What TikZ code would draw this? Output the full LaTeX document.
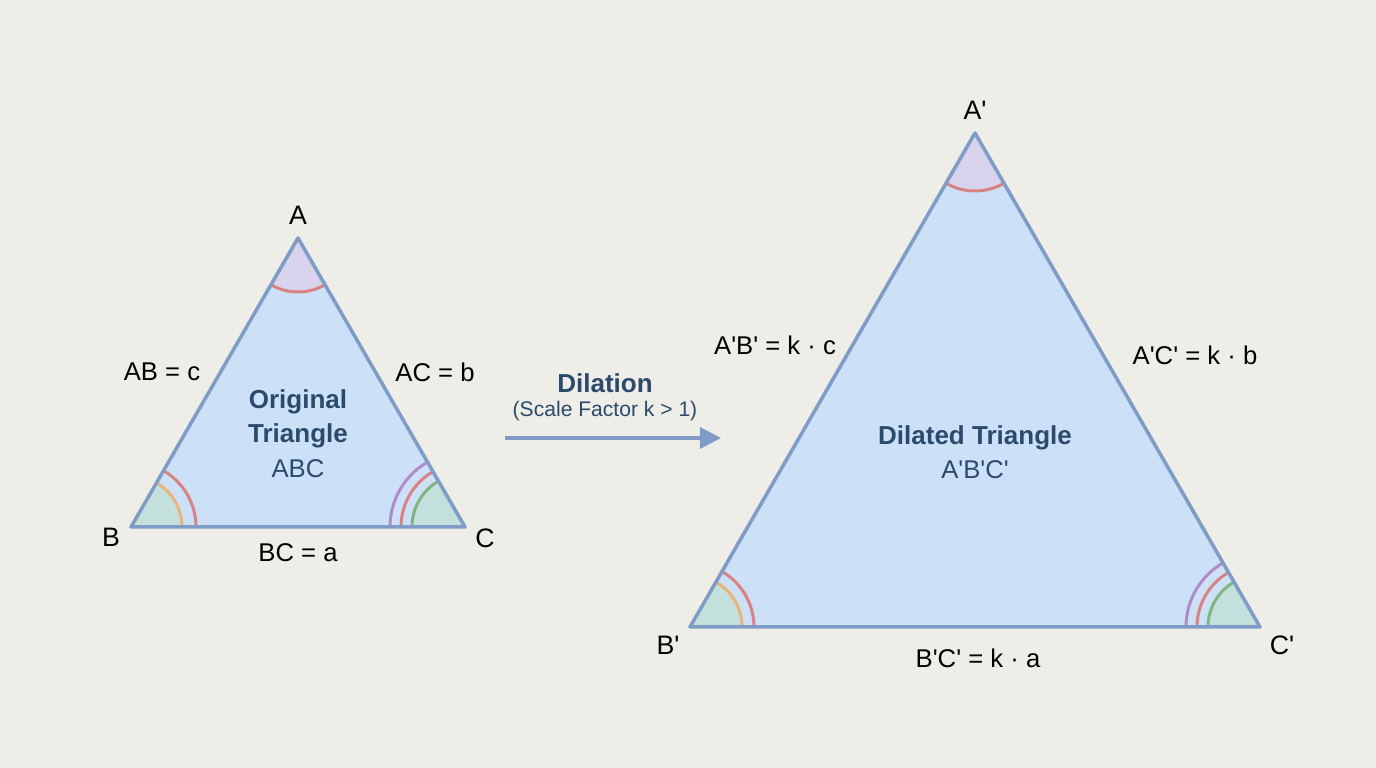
\documentclass[tikz,border=0pt]{standalone}
\usepackage{fontspec}
\setmainfont{Liberation Sans}
\usepackage{tikz}
\usetikzlibrary{arrows.meta}
\usepackage{xcolor}
\definecolor{bgcol}{HTML}{EEEDE8}
\definecolor{trifill}{HTML}{CCE0F8}
\definecolor{triline}{HTML}{7E9CC6}
\definecolor{apexfill}{HTML}{D8D2EC}
\definecolor{basefill}{HTML}{C3E0DC}
\definecolor{arcred}{HTML}{D98282}
\definecolor{arcorange}{HTML}{E9B47A}
\definecolor{arcpurple}{HTML}{AE8CC6}
\definecolor{arcgreen}{HTML}{80B582}
\definecolor{textblue}{HTML}{2C4A6B}
\newcommand{\pr}{\textquotesingle}

\begin{document}
\begin{tikzpicture}[vertex/.style={font=\fontsize{7.6}{9}\selectfont, text=black}, side label/.style={font=\fontsize{7.3}{9}\selectfont, text=black}, title label/.style={font=\fontsize{7.4}{9}\selectfont\bfseries, text=textblue}, sub label/.style={font=\fontsize{7.3}{9}\selectfont, text=textblue}, tri/.style={draw=triline, line width=1pt, line join=round}, arcline/.style={line width=0.85pt}]
\fill[bgcol] (0,0) rectangle (13.76,7.68);
\useasboundingbox (0,0) rectangle (13.76,7.68);
\coordinate (A) at (2.98,5.30);
\coordinate (B) at (1.31,2.41);
\coordinate (C) at (4.65,2.41);
\coordinate (A2) at (9.75,6.35);
\coordinate (B2) at (6.90,1.41);
\coordinate (C2) at (12.60,1.41);
% original triangle
\fill[trifill] (A) -- (B) -- (C) -- cycle;
\fill[apexfill] (A) -- ++(240:0.54) arc (240:300:0.54) -- cycle;
\fill[basefill] (B) -- ++(0:0.51) arc (0:60:0.51) -- cycle;
\fill[basefill] (C) -- ++(120:0.53) arc (120:180:0.53) -- cycle;
\draw[arcline, arcred] (A) ++(240:0.54) arc (240:300:0.54);
\draw[arcline, arcorange] (B) ++(0:0.51) arc (0:60:0.51);
\draw[arcline, arcred] (B) ++(0:0.65) arc (0:60:0.65);
\draw[arcline, arcgreen] (C) ++(120:0.53) arc (120:180:0.53);
\draw[arcline, arcred] (C) ++(120:0.64) arc (120:180:0.64);
\draw[arcline, arcpurple] (C) ++(120:0.75) arc (120:180:0.75);
\draw[tri] (A) -- (B) -- (C) -- cycle;
% dilated triangle
\fill[trifill] (A2) -- (B2) -- (C2) -- cycle;
\fill[apexfill] (A2) -- ++(240:0.58) arc (240:300:0.58) -- cycle;
\fill[basefill] (B2) -- ++(0:0.52) arc (0:60:0.52) -- cycle;
\fill[basefill] (C2) -- ++(120:0.52) arc (120:180:0.52) -- cycle;
\draw[arcline, arcred] (A2) ++(240:0.58) arc (240:300:0.58);
\draw[arcline, arcorange] (B2) ++(0:0.52) arc (0:60:0.52);
\draw[arcline, arcred] (B2) ++(0:0.64) arc (0:60:0.64);
\draw[arcline, arcgreen] (C2) ++(120:0.52) arc (120:180:0.52);
\draw[arcline, arcred] (C2) ++(120:0.63) arc (120:180:0.63);
\draw[arcline, arcpurple] (C2) ++(120:0.74) arc (120:180:0.74);
\draw[tri] (A2) -- (B2) -- (C2) -- cycle;
% labels
\node[vertex] (lA) at (2.98,5.53) {A};
\node[vertex] (lB) at (1.11,2.31) {B};
\node[vertex] (lC) at (4.85,2.30) {C};
\node[side label] (ab) at (1.62,3.96) {AB = c};
\node[side label] (ac) at (4.35,3.96) {AC = b};
\node[side label] (bc) at (2.98,2.15) {BC = a};
\node[title label] (orig1) at (2.98,3.66) {Original};
\node[title label] (orig2) at (2.98,3.32) {Triangle};
\node[sub label] (orig3) at (2.98,2.99) {ABC};
\node[vertex] (lA2) at (9.75,6.58) {A\pr};
\node[vertex] (lB2) at (6.68,1.23) {B\pr};
\node[vertex] (lC2) at (12.82,1.23) {C\pr};
\node[side label] (ab2) at (7.75,4.23) {A\pr B\pr{} = k · c};
\node[side label] (ac2) at (11.95,4.13) {A\pr C\pr{} = k · b};
\node[side label] (bc2) at (9.78,1.10) {B\pr C\pr{} = k · a};
\node[title label] (dil1) at (9.75,3.30) {Dilated Triangle};
\node[sub label] (dil2) at (9.75,2.98) {A\pr B\pr C\pr};
% dilation arrow
\node[title label] (dil) at (6.05,3.85) {Dilation};
\node[sub label, font=\fontsize{6.0}{8}\selectfont] (scale) at (6.05,3.57) {(Scale Factor k > 1)};
\coordinate (arrS) at (5.05,3.30);
\coordinate (arrE) at (7.21,3.30);
\draw[triline, line width=1pt, -{Triangle[length=6pt, width=6pt]}] (arrS) -- (arrE);
\end{tikzpicture}
\end{document}
